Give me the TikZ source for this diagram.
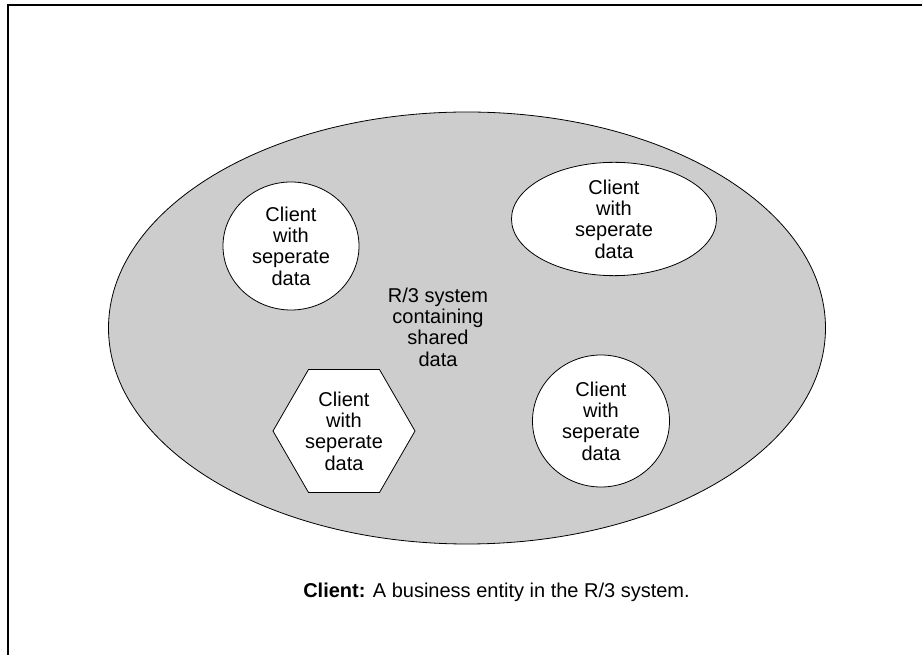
\documentclass[tikz,border=0pt]{standalone}
\usepackage{fontspec}
\setmainfont{Liberation Sans}
\usetikzlibrary{shapes.geometric}
\definecolor{shared}{RGB}{205,205,205}

\begin{document}
\begin{tikzpicture}[x=0.75pt,y=-0.75pt,
    every node/.style={font=\fontsize{15}{16}\selectfont},
    client/.style={draw,fill=white,line width=0.6pt,align=center,inner sep=0pt}]
    \useasboundingbox (0,0) rectangle (922,655);
    \draw[line width=1.7pt] (8,655)--(8,5)--(922,5);
    \node[draw,fill=shared,ellipse,line width=0.6pt,minimum width=537.75pt,minimum height=324pt] (system) at (467,328) {};
    \node[align=center,inner sep=0pt] (shared) at (438,327) {R/3 system\\containing\\shared\\data};
    \node[client,ellipse,minimum width=102pt,minimum height=96pt] (clienta) at (291,246) {Client\\with\\seperate\\data};
    \node[client,ellipse,minimum width=153.75pt,minimum height=85pt] (clientb) at (614,219) {Client\\with\\seperate\\data};
    \node[client,regular polygon,regular polygon sides=6,minimum size=106.5pt] (clientc) at (344,431) {Client\\with\\seperate\\data};
    \node[client,ellipse,minimum width=102.75pt,minimum height=99pt] (clientd) at (601,421) {Client\\with\\seperate\\data};
    \node (legend) at (496.5,592) {\textbf{Client:} A business entity in the R/3 system.};
\end{tikzpicture}
\end{document}
